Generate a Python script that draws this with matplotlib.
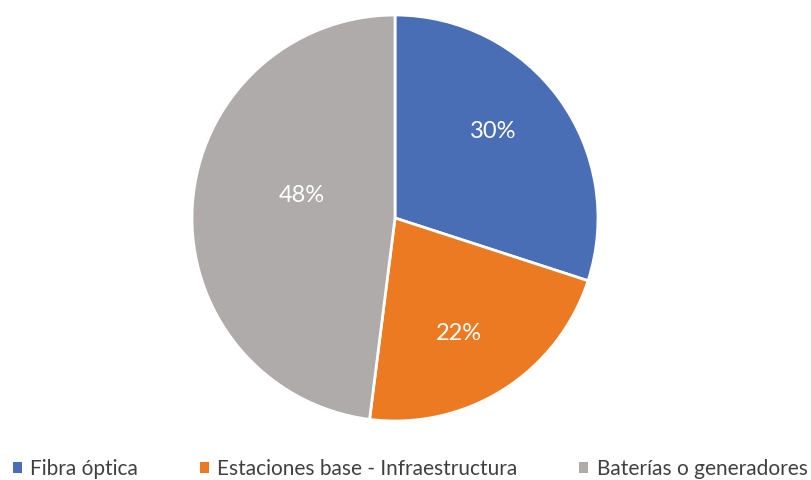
import numpy as np
import matplotlib.pyplot as plt
from matplotlib.patches import Patch

plt.rcParams['font.family'] = ['Lato', 'DejaVu Sans']

# data
categorias = ['Fibra óptica', 'Estaciones base - Infraestructura', 'Baterías o generadores']
valores = [30, 22, 48]
colores = ['#4A6EB5', '#EB7A23', '#AEABAA']

fig = plt.figure(figsize=(8.12, 4.8), dpi=100)
W, H = 812, 480
cx, cy, r = 395, 218, 203
ax = fig.add_axes([(cx - r) / W, (H - cy - r) / H, 2 * r / W, 2 * r / H])

wedges, texts, autotexts = ax.pie(valores, colors=colores, startangle=90, counterclock=False,
                                  autopct='%1.0f%%', pctdistance=0.65,
                                  wedgeprops=dict(edgecolor='white', linewidth=2),
                                  textprops=dict(color='white', fontsize=17))

# Excel pone las etiquetas un poco fuera del angulo medio
dist = [0.645, 0.65, 0.47]
giro = [5.5, -3.5, -10]
for w, t, d, g in zip(wedges, autotexts, dist, giro):
    ang = np.deg2rad((w.theta1 + w.theta2) / 2 + g)
    t.set_position((d * np.cos(ang), d * np.sin(ang)))

ax.set_xlim(-1, 1)
ax.set_ylim(-1, 1)
ax.set_aspect('equal')

handles = [Patch(facecolor=c, edgecolor='none') for c in colores]
fig.legend(handles, categorias, loc='lower center', ncol=3, frameon=False,
           bbox_to_anchor=(0.505, -0.037), fontsize=15, handlelength=0.45, handleheight=0.45,
           handletextpad=0.4, columnspacing=2.95, labelcolor='#404040')

fig.savefig('out.png', dpi=100)
